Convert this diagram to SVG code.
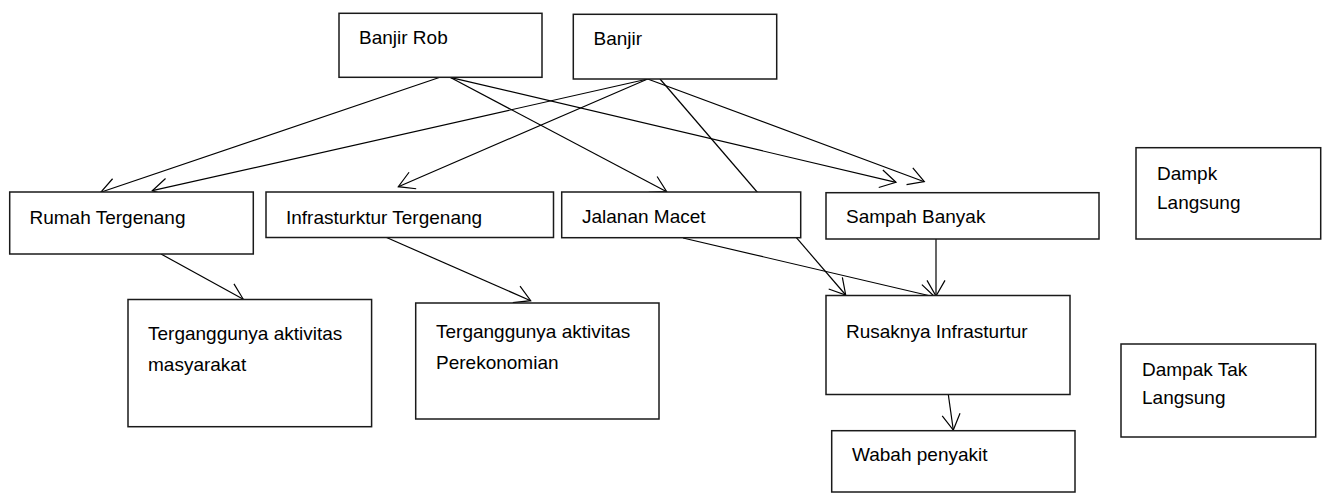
<svg xmlns="http://www.w3.org/2000/svg" width="1325" height="494" viewBox="0 0 1325 494">
<style>
.box{fill:#fff;stroke:#1a1a1a;stroke-width:1.5}
.lbl{font-family:"Liberation Sans",Arial,sans-serif;font-size:19px;fill:#000}
.con{stroke:#000;stroke-width:1.2;fill:none}
</style>
<defs>
<marker id="arr" markerUnits="userSpaceOnUse" markerWidth="18" markerHeight="20" viewBox="-17 -10 18 20" refX="0" refY="0" orient="auto" overflow="visible">
<path d="M-15.6,-9 L0,0 L-15.6,9" fill="none" stroke="#000" stroke-width="1.2"/>
</marker>
</defs>
<rect width="1325" height="494" fill="#fff"/>
<g id="connectors">
<line class="con" x1="440" y1="77.3" x2="100.7" y2="192.3" marker-end="url(#arr)"/>
<line class="con" x1="647.7" y1="79" x2="152.3" y2="190.7" marker-end="url(#arr)"/>
<line class="con" x1="647.7" y1="79" x2="398.3" y2="186.7" marker-end="url(#arr)"/>
<line class="con" x1="450" y1="77.3" x2="666.7" y2="191.7" marker-end="url(#arr)"/>
<line class="con" x1="450" y1="77.3" x2="896" y2="182.3" marker-end="url(#arr)"/>
<line class="con" x1="647.7" y1="79" x2="924.3" y2="181.7" marker-end="url(#arr)"/>
<line class="con" x1="660" y1="79" x2="845.7" y2="295" marker-end="url(#arr)"/>
<line class="con" x1="161" y1="254" x2="243.3" y2="299.3" marker-end="url(#arr)"/>
<line class="con" x1="386" y1="237.3" x2="530.7" y2="300.7" marker-end="url(#arr)"/>
<line class="con" x1="683" y1="238" x2="935" y2="297" marker-end="url(#arr)"/>
<line class="con" x1="936" y1="239" x2="936" y2="296" marker-end="url(#arr)"/>
<line class="con" x1="948.3" y1="394.5" x2="953.3" y2="430" marker-end="url(#arr)"/>
</g>
<g id="banjir-rob"><rect class="box" x="339" y="13.3" width="203" height="64"/><text class="lbl" x="359" y="44">Banjir Rob</text></g>
<g id="banjir"><rect class="box" x="573.3" y="14.3" width="203.4" height="64.7"/><text class="lbl" x="593.5" y="45">Banjir</text></g>
<g id="rumah-tergenang"><rect class="box" x="9.7" y="192" width="243.6" height="62"/><text class="lbl" x="29.5" y="224">Rumah Tergenang</text></g>
<g id="infrastruktur-tergenang"><rect class="box" x="266" y="192" width="287.5" height="45.5"/><text class="lbl" x="286" y="224">Infrasturktur Tergenang</text></g>
<g id="jalanan-macet"><rect class="box" x="561.7" y="192" width="239" height="45.7"/><text class="lbl" x="582" y="223">Jalanan Macet</text></g>
<g id="sampah-banyak"><rect class="box" x="826" y="192.7" width="273" height="46.3"/><text class="lbl" x="846" y="223">Sampah Banyak</text></g>
<g id="dampak-langsung"><rect class="box" x="1136" y="147.7" width="184.7" height="91.3"/><text class="lbl" x="1157" y="180">Dampk</text><text class="lbl" x="1157" y="209">Langsung</text></g>
<g id="terganggu-masyarakat"><rect class="box" x="128" y="299.5" width="243.6" height="127.2"/><text class="lbl" x="148" y="340">Terganggunya aktivitas</text><text class="lbl" x="148" y="371">masyarakat</text></g>
<g id="terganggu-perekonomian"><rect class="box" x="415.7" y="303" width="243.3" height="116"/><text class="lbl" x="436" y="338">Terganggunya aktivitas</text><text class="lbl" x="436" y="369">Perekonomian</text></g>
<g id="rusaknya-infrastruktur"><rect class="box" x="826" y="295.5" width="244" height="99"/><text class="lbl" x="846" y="338">Rusaknya Infrasturtur</text></g>
<g id="dampak-tak-langsung"><rect class="box" x="1121" y="344" width="194.7" height="93"/><text class="lbl" x="1142" y="376">Dampak Tak</text><text class="lbl" x="1142" y="404">Langsung</text></g>
<g id="wabah-penyakit"><rect class="box" x="831.7" y="430.7" width="243.3" height="61.3"/><text class="lbl" x="852" y="461">Wabah penyakit</text></g>
</svg>
